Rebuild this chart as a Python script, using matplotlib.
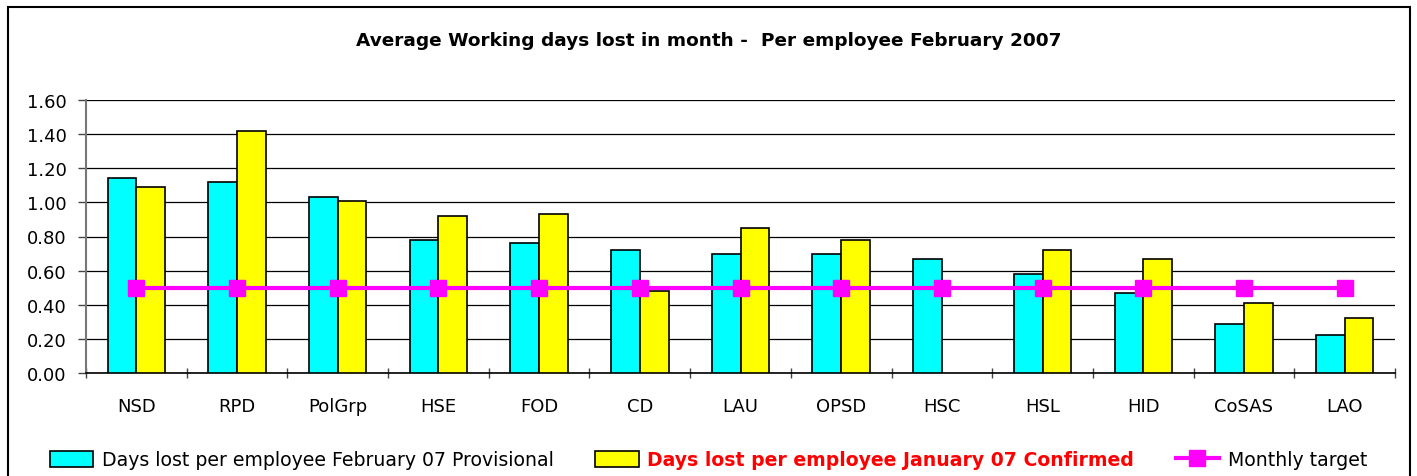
import numpy as np
import matplotlib.pyplot as plt
from matplotlib.patches import Rectangle

plt.rcParams['font.family'] = ['DejaVu Sans']

categories = ['NSD', 'RPD', 'PolGrp', 'HSE', 'FOD', 'CD', 'LAU', 'OPSD',
              'HSC', 'HSL', 'HID', 'CoSAS', 'LAO']
feb_provisional = [1.14, 1.12, 1.03, 0.78, 0.76, 0.72, 0.70, 0.70, 0.67, 0.58, 0.47, 0.29, 0.22]
jan_confirmed = [1.09, 1.42, 1.01, 0.92, 0.93, 0.48, 0.85, 0.78, np.nan, 0.72, 0.67, 0.41, 0.32]
monthly_target = [0.50] * 13
yticks = [0.0, 0.2, 0.4, 0.6, 0.8, 1.0, 1.2, 1.4, 1.6]

fig = plt.figure(figsize=(14.17, 4.77), dpi=100)
ax = fig.add_axes([86/1417, 1-374/477, (1395-86)/1417, (374-101)/477])

x = np.arange(len(categories))
w = 0.285
b1 = ax.bar(x - w/2, feb_provisional, w, color='#00FFFF', edgecolor='black', linewidth=1.2,
            label='Days lost per employee February 07 Provisional', zorder=3)
b2 = ax.bar(x + w/2, jan_confirmed, w, color='#FFFF00', edgecolor='black', linewidth=1.2,
            label='Days lost per employee January 07 Confirmed', zorder=3)
ln, = ax.plot(x, monthly_target, color='#FF00FF', linewidth=3, marker='s', markersize=11,
              label='Monthly target', zorder=4)

ax.set_xlim(-0.5, len(categories) - 0.5)
ax.set_ylim(0, 1.6)
ax.set_yticks(yticks)
ax.set_yticklabels(['%.2f' % v for v in yticks], fontsize=13)
ax.yaxis.grid(True, color='black', linewidth=0.9, zorder=0)
ax.set_axisbelow(True)

ax.set_xticks(x)
ax.set_xticklabels(categories, fontsize=13)
ax.tick_params(axis='x', which='major', length=0, pad=17)
ax.set_xticks(np.arange(len(categories) + 1) - 0.5, minor=True)
ax.tick_params(axis='x', which='minor', length=7, direction='inout', color='#444444', width=1)
ax.tick_params(axis='y', length=6, color='#444444', width=1, pad=8)

ax.spines['top'].set_visible(False)
ax.spines['right'].set_visible(False)
ax.spines['left'].set_color('#777777')
ax.spines['left'].set_linewidth(1.5)
ax.spines['bottom'].set_linewidth(1.2)

fig.text(0.5, 1 - 41/477, 'Average Working days lost in month -  Per employee February 2007',
         ha='center', va='center', fontsize=13.3, fontweight='bold')

leg = fig.legend(handles=[b1, b2, ln], loc='center', bbox_to_anchor=(0.5, 1 - 461/477),
                 ncol=3, frameon=False, fontsize=13.6, handlelength=2.3, handleheight=0.9,
                 handletextpad=0.45, columnspacing=2.2)
leg.get_texts()[1].set_color('red')
leg.get_texts()[1].set_fontweight('bold')

fig.patches.append(Rectangle((8/1417, -0.05), (1410-8)/1417, 1.05 - 8/477,
                             transform=fig.transFigure, fill=False, edgecolor='black',
                             linewidth=1.5))

fig.savefig('out.png', dpi=100)
